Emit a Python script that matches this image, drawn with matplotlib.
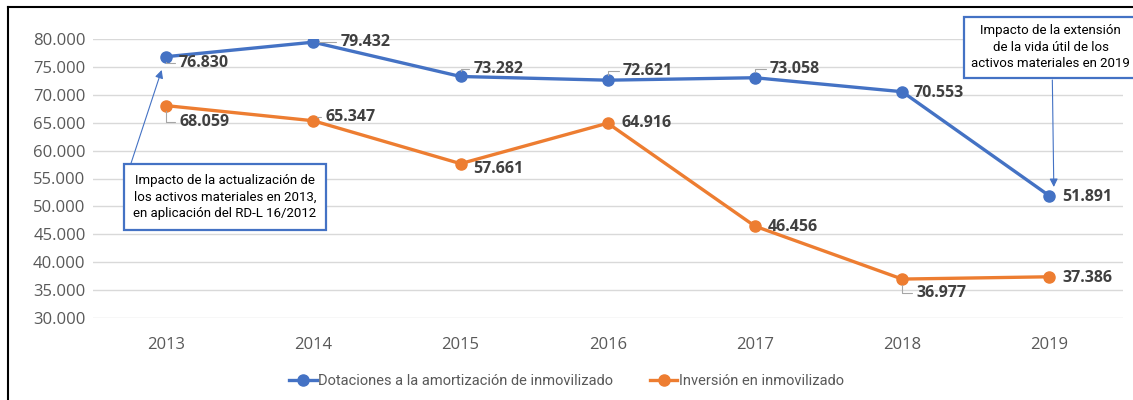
import matplotlib.pyplot as plt
from matplotlib.lines import Line2D

years = ["2013", "2014", "2015", "2016", "2017", "2018", "2019"]
dotaciones = [76830, 79432, 73282, 72621, 73058, 70553, 51891]
inversion = [68059, 65347, 57661, 64916, 46456, 36977, 37386]
name_dot = "Dotaciones a la amortización de inmovilizado"
name_inv = "Inversión en inmovilizado"
note_2013 = "Impacto de la actualización de\nlos activos materiales en 2013,\nen aplicación del RD-L 16/2012"
note_2019 = "Impacto de la extensión\nde la vida útil de los\nactivos materiales en 2019"

# label offsets in pixels (dx right, dy up) and whether a leader line shows
off_dot = [(13, -6), (27, 0), (13, 7), (15, 9), (15, 9), (11, -1), (13, -1)]
lead_dot = [True, True, True, True, True, False, False]
off_inv = [(13, -16), (12, 4), (13, -5), (14, 0), (13, -1), (14, -14), (13, -1)]
lead_inv = [True, True, False, False, False, True, False]

BLUE = "#4472C4"
ORANGE = "#ED7D31"
narrow = ["Roboto", "DejaVu Sans"]

fig = plt.figure(figsize=(11.33, 4), dpi=100)
ax = fig.add_axes([92.5 / 1133, 0.205, (1123 - 92.5) / 1133, 0.9025 - 0.205])

x = list(range(len(years)))
ax.plot(x, dotaciones, color=BLUE, lw=2.4, marker="o", ms=8, label=name_dot, zorder=3)
ax.plot(x, inversion, color=ORANGE, lw=2.4, marker="o", ms=8, label=name_inv, zorder=3)

ax.set_xlim(-0.5, len(years) - 0.5)
ax.set_ylim(30000, 80000)
ax.set_yticks(range(30000, 80001, 5000))
ax.set_yticklabels([f"{v:,}".replace(",", ".") for v in range(30000, 80001, 5000)])
ax.set_xticks(x)
ax.set_xticklabels(years)
ax.grid(axis="y", color="#D9D9D9", lw=1)
ax.set_axisbelow(True)
for s in ax.spines.values():
    s.set_visible(False)
ax.tick_params(length=0, colors="#595959", labelsize=12)
ax.tick_params(axis="y", pad=5)
ax.tick_params(axis="x", pad=14)
for t in ax.get_xticklabels() + ax.get_yticklabels():
    t.set_fontfamily("Open Sans")


def labels(vals, offs, leads):
    for i, v in enumerate(vals):
        ap = None
        if leads[i]:
            ap = dict(arrowstyle="-", color="#A6A6A6", lw=0.8, shrinkA=1, shrinkB=4,
                      connectionstyle="angle,angleA=0,angleB=90,rad=0")
        ax.annotate(f"{v:,}".replace(",", "."), xy=(i, v), xytext=offs[i],
                    textcoords="offset pixels", ha="left", va="center",
                    fontsize=11.5, fontweight="bold", color="#404040",
                    family="Open Sans", arrowprops=ap, zorder=4)


labels(dotaciones, off_dot, lead_dot)
labels(inversion, off_inv, lead_inv)

# callouts
ax.text(0.40, 51700, note_2013, ha="center", va="center", fontsize=9.5,
        family=narrow, color="black", linespacing=1.35, zorder=5,
        bbox=dict(boxstyle="square,pad=0.75", fc="white", ec=BLUE, lw=1.6))
ax.text(6.01, 78480, note_2019, ha="center", va="center", fontsize=9.5,
        family=narrow, color="black", linespacing=1.35, zorder=5, clip_on=False,
        bbox=dict(boxstyle="square,pad=0.55", fc="white", ec=BLUE, lw=1.6))
arrow = dict(arrowstyle="-|>", color=BLUE, lw=0.8, mutation_scale=12, shrinkA=0, shrinkB=0)
ax.annotate("", xy=(-0.03, 74450), xytext=(-0.245, 57200), arrowprops=arrow, zorder=4)
ax.annotate("", xy=(6.03, 53480), xytext=(6.02, 72650), arrowprops=arrow, zorder=4)

leg = ax.legend(loc="center", bbox_to_anchor=(0.5, 0.0475), bbox_transform=fig.transFigure,
                ncol=2, frameon=False, handlelength=1.9, handletextpad=0.1,
                columnspacing=2.5, prop={"family": narrow, "size": 10.5})
for t in leg.get_texts():
    t.set_color("#595959")

# outer frame (left and top edges visible)
x0, y1 = 8 / 1133, 1 - 7 / 400
fig.add_artist(Line2D([x0, x0], [0, y1], color="black", lw=1.5))
fig.add_artist(Line2D([x0, 1], [y1, y1], color="black", lw=1.5))

fig.savefig("out.png", dpi=100)
